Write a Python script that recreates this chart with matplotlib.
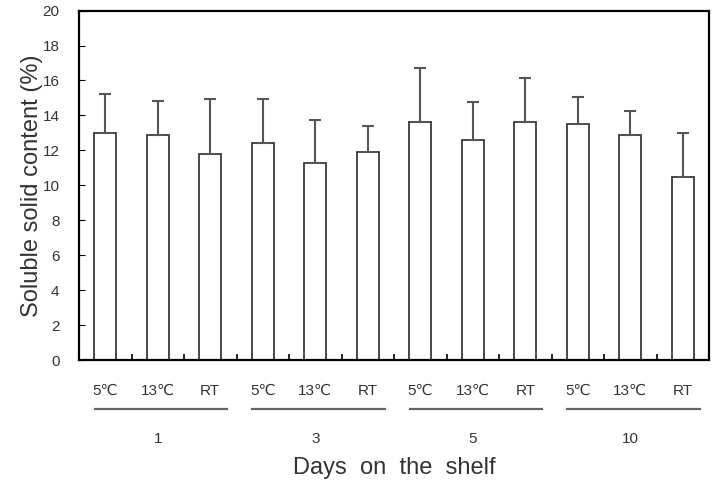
import matplotlib
matplotlib.use("Agg")
import matplotlib.pyplot as plt
import numpy as np

plt.rcParams['font.family'] = ['Liberation Sans', 'DejaVu Sans']

# ---------------------------------------------------------------------------
# Data
# ---------------------------------------------------------------------------

TEMPS  = ["5℃", "13℃", "RT"]
DAYS   = ["1", "3", "5", "10"]
MEANS  = [13.0, 12.9, 11.8, 12.4, 11.3, 11.9, 13.6, 12.6, 13.6, 13.5, 12.9, 10.5]
ERRORS = [2.2, 1.9, 3.15, 2.55, 2.45, 1.5, 3.1, 2.15, 2.55, 1.55, 1.35, 2.5]

TEXT_COLOR = "#333333"

# ---------------------------------------------------------------------------
# Plot
# ---------------------------------------------------------------------------

fig = plt.figure(figsize=(7.12, 4.8), dpi=100)
ax = fig.add_axes([0.111, 0.25, 0.885, 0.728])

x = np.arange(len(MEANS))
ax.bar(x, MEANS, width=0.42, color="white", edgecolor="#3a3a3a", linewidth=1.3,
       yerr=[np.zeros(len(ERRORS)), ERRORS],
       error_kw=dict(ecolor="#555555", elinewidth=1.5, capsize=4, capthick=1.5))

ax.set_xlim(-0.5, len(MEANS) - 0.5)
ax.set_ylim(0, 20)
ax.set_yticks(np.arange(0, 21, 2))
ax.tick_params(axis="y", direction="in", length=4, labelsize=11,
               labelcolor=TEXT_COLOR, pad=14)

# category labels under each bar, small inward ticks between bars
ax.set_xticks(x)
ax.set_xticklabels(TEMPS * len(DAYS), fontsize=11, color=TEXT_COLOR)
ax.tick_params(axis="x", length=0, pad=17)
ax.set_xticks(np.arange(0.5, len(MEANS) - 0.5, 1), minor=True)
ax.tick_params(axis="x", which="minor", direction="in", length=4, width=1.2)

for sp in ax.spines.values():
    sp.set_linewidth(1.6)

# group lines and day labels
trans = ax.get_xaxis_transform()
for g, day in enumerate(DAYS):
    start = g * 3
    ax.plot([start - 0.2, start + 2.32], [-0.14, -0.14], color="#666666",
            linewidth=1.6, transform=trans, clip_on=False)
    ax.text(start + 1.0, -0.225, day, transform=trans, ha="center", va="center",
            fontsize=11, color=TEXT_COLOR)

ax.set_xlabel("Days  on  the  shelf", fontsize=17, color=TEXT_COLOR, labelpad=43)
ax.set_ylabel("Soluble solid content (%)", fontsize=17, color=TEXT_COLOR, labelpad=0)

fig.savefig("out.png", dpi=100)
